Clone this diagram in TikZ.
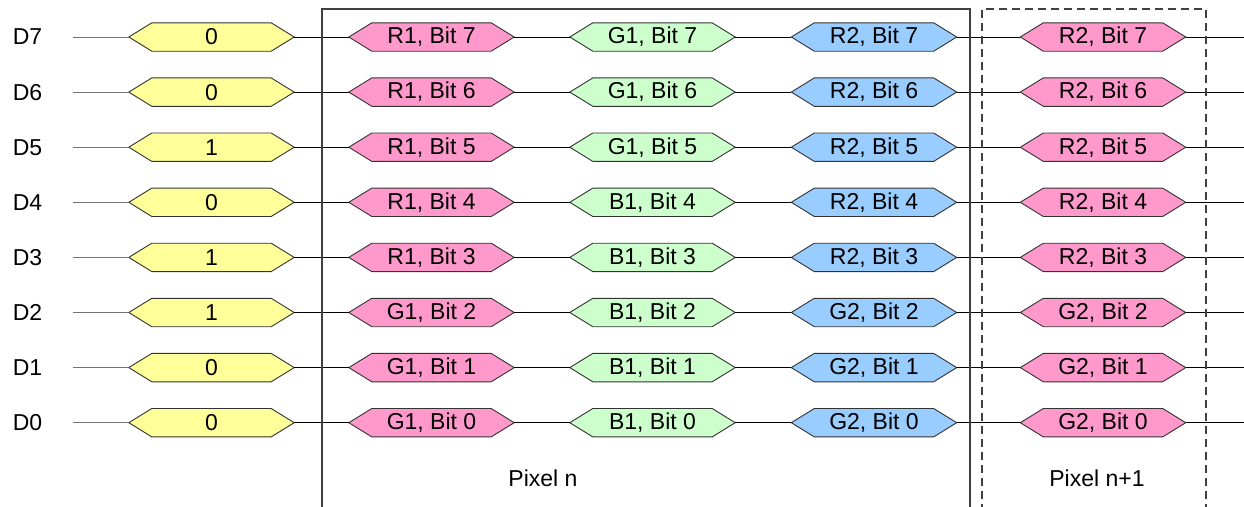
\documentclass[tikz,border=0pt]{standalone}
\usepackage{fontspec}
\setmainfont{Liberation Sans}
\pgfdeclarelayer{bg}
\pgfsetlayers{bg,main}
\definecolor{cyel}{HTML}{FFFF99}
\definecolor{cpink}{HTML}{FF99CC}
\definecolor{cgreen}{HTML}{CCFFCC}
\definecolor{cblue}{HTML}{99CCFF}
\definecolor{frame}{HTML}{404040}
\newcommand\hexshape[2]{%
  \begin{pgfonlayer}{bg}
  \draw[hexline, fill=#2] (#1.west) -- ([xshift=23pt]#1.north west) -- ([xshift=-23pt]#1.north east)
     -- (#1.east) -- ([xshift=-23pt]#1.south east) -- ([xshift=23pt]#1.south west) -- cycle;
  \end{pgfonlayer}}
\begin{document}
\begin{tikzpicture}[x=1pt,y=-1pt,
  hexcell/.style={minimum width=165pt, minimum height=28pt, inner sep=0pt,
     font=\fontsize{23}{27}\selectfont},
  hexline/.style={draw=black!80, line width=0.9pt},
  sig/.style={draw=black, line width=1pt},
  sigin/.style={draw=black!55, line width=1pt},
  lbl/.style={font=\fontsize{23}{27}\selectfont, inner sep=0pt},
  solidframe/.style={draw=frame, line width=1.4pt},
  dashframe/.style={draw=frame, line width=1.4pt, dash pattern=on 8pt off 5pt}]
\useasboundingbox (0,0) rectangle (1244,506);
\foreach \i/\d/\a/\b/\c/\e/\f in {
  0/D7/0/{R1, Bit 7}/{G1, Bit 7}/{R2, Bit 7}/{R2, Bit 7},
  1/D6/0/{R1, Bit 6}/{G1, Bit 6}/{R2, Bit 6}/{R2, Bit 6},
  2/D5/1/{R1, Bit 5}/{G1, Bit 5}/{R2, Bit 5}/{R2, Bit 5},
  3/D4/0/{R1, Bit 4}/{B1, Bit 4}/{R2, Bit 4}/{R2, Bit 4},
  4/D3/1/{R1, Bit 3}/{B1, Bit 3}/{R2, Bit 3}/{R2, Bit 3},
  5/D2/1/{G1, Bit 2}/{B1, Bit 2}/{G2, Bit 2}/{G2, Bit 2},
  6/D1/0/{G1, Bit 1}/{B1, Bit 1}/{G2, Bit 1}/{G2, Bit 1},
  7/D0/0/{G1, Bit 0}/{B1, Bit 0}/{G2, Bit 0}/{G2, Bit 0}}{
  \pgfmathsetmacro\yy{37+55.1*\i}
  \node[lbl] (d\i) at (27.5,\yy) {\d};
  \coordinate (s\i) at (73,\yy);
  \coordinate (e\i) at (1244,\yy);
  \node[hexcell] (y\i) at (211.5,\yy) {\a};
  \node[hexcell] (p\i) at (431.5,\yy) {\b};
  \node[hexcell] (g\i) at (652.5,\yy) {\c};
  \node[hexcell] (b\i) at (874,\yy) {\e};
  \node[hexcell] (q\i) at (1103,\yy) {\f};
  \hexshape{y\i}{cyel}
  \hexshape{p\i}{cpink}
  \hexshape{g\i}{cgreen}
  \hexshape{b\i}{cblue}
  \hexshape{q\i}{cpink}
  \begin{pgfonlayer}{bg}
  \draw[sigin] (s\i) -- (y\i.west);
  \draw[sig] (y\i.east) -- (p\i.west);
  \draw[sig] (p\i.east) -- (g\i.west);
  \draw[sig] (g\i.east) -- (b\i.west);
  \draw[sig] (b\i.east) -- (q\i.west);
  \draw[sig] (q\i.east) -- (e\i);
  \end{pgfonlayer}
}
\draw[solidframe] (322,512) -- (322,9) -- (970,9) -- (970,512);
\draw[dashframe] (982,512) -- (982,9) -- (1206,9) -- (1206,512);
\node[lbl] (pixn) at (543,478) {Pixel n};
\node[lbl] (pixn1) at (1097,478) {Pixel n+1};
\end{tikzpicture}
\end{document}
